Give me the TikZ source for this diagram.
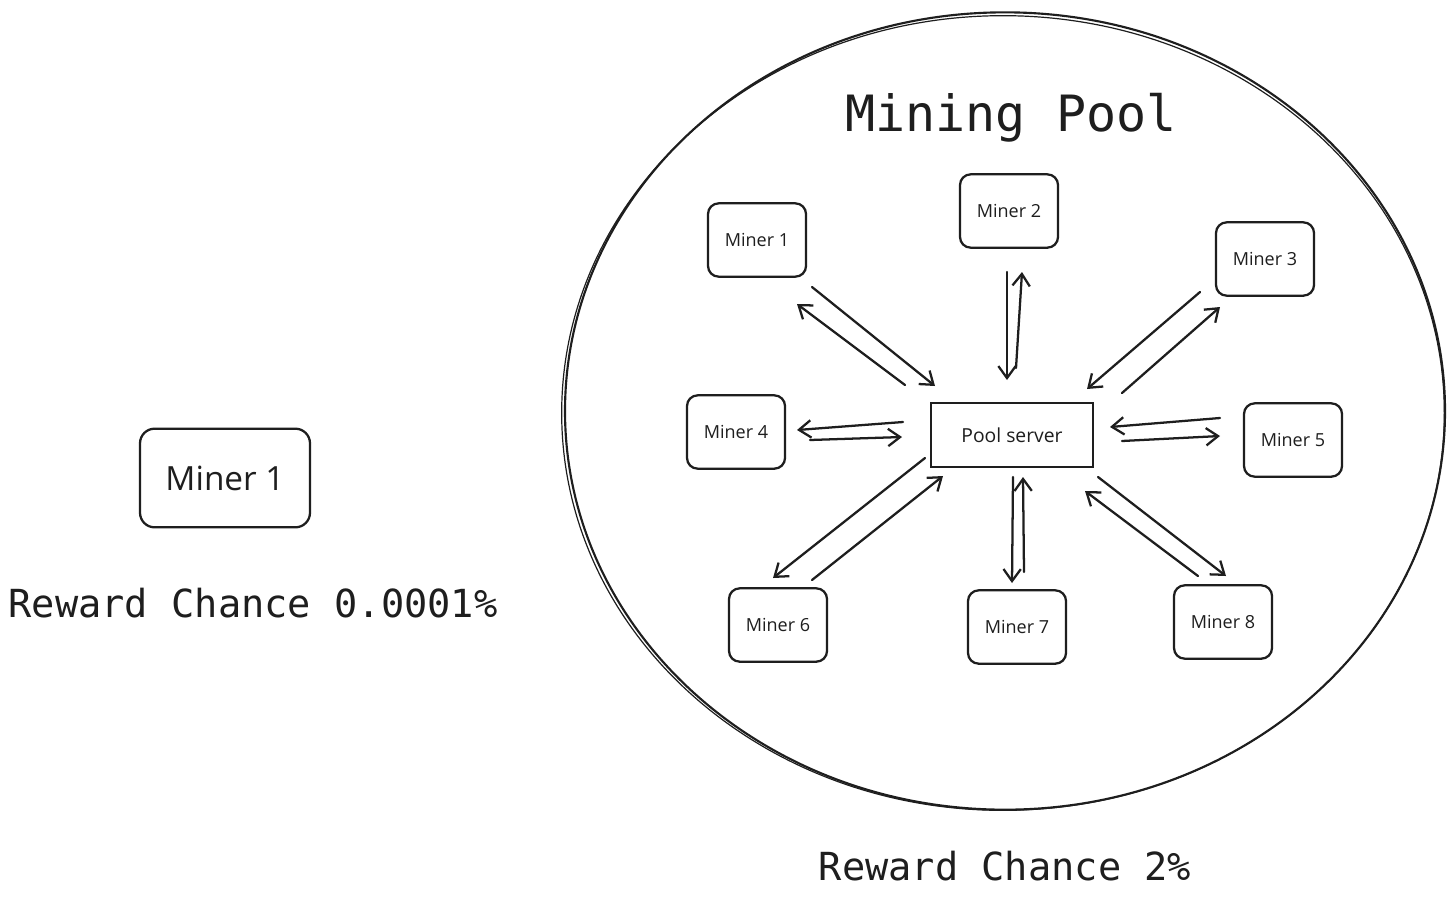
\documentclass[tikz,border=0pt]{standalone}
\usepackage{fontspec}
\setmainfont{Open Sans}
\newfontfamily\monof{DejaVu Sans Mono}
\usetikzlibrary{arrows.meta}
\definecolor{ink}{HTML}{1E1E1E}
\begin{document}
\begin{tikzpicture}[x=0.75pt,y=-0.75pt, color=ink,
  minerbox/.style={draw, line width=1.7pt, rounded corners=8pt, minimum width=73.5pt, minimum height=55pt, inner sep=0pt, font=\fontsize{13.5}{16}\selectfont},
  bigbox/.style={draw, line width=1.7pt, rounded corners=11pt, minimum width=127.5pt, minimum height=74pt, inner sep=0pt, font=\fontsize{25}{30}\selectfont},
  serverbox/.style={draw, line width=1.7pt, minimum width=121pt, minimum height=48pt, inner sep=0pt, font=\fontsize{14.5}{17}\selectfont},
  bigtext/.style={font=\monof\fontsize{29}{34}\selectfont, inner sep=0pt},
  link/.style={line width=1.7pt, line cap=round, -{Straight Barb[length=9pt,width=13pt,line width=1.7pt]}}]
\path[fill=white,use as bounding box] (0,0) rectangle (1455,904);

% pool boundary
\draw[line width=1.6pt] (1005,411) ellipse [x radius=330pt, y radius=299pt];
\draw[line width=0.9pt] (1003,413) ellipse [x radius=331pt, y radius=298pt];

\node[font=\monof\fontsize{37.5}{44}\selectfont, inner sep=0pt] (title) at (1011,118) {Mining Pool};

% solo miner
\node[bigbox] (solo) at (225,478) {Miner 1};
\node[bigtext] (solochance) at (253,603) {Reward Chance 0.0001\%};
\node[bigtext] (poolchance) at (1005,866) {Reward Chance 2\%};

% pool server and miners
\node[serverbox] (server) at (1012,435) {Pool server};
\node[minerbox] (m1) at (757,240) {Miner 1};
\node[minerbox] (m2) at (1009,211) {Miner 2};
\node[minerbox] (m3) at (1265,259) {Miner 3};
\node[minerbox] (m4) at (736,432) {Miner 4};
\node[minerbox] (m5) at (1293,440) {Miner 5};
\node[minerbox] (m6) at (778,625) {Miner 6};
\node[minerbox] (m7) at (1017,627) {Miner 7};
\node[minerbox] (m8) at (1223,622) {Miner 8};

% arrow end points
\coordinate (a1s) at (812,287); \coordinate (a1e) at (935,386);
\coordinate (b1s) at (905,385); \coordinate (b1e) at (797,304);
\coordinate (a2s) at (1007,272); \coordinate (a2e) at (1007,380);
\coordinate (b2s) at (1016,368); \coordinate (b2e) at (1022,272);
\coordinate (a3s) at (1200,292); \coordinate (a3e) at (1087,389);
\coordinate (b3s) at (1122,393); \coordinate (b3e) at (1220,307);
\coordinate (a4s) at (903,422); \coordinate (a4e) at (797,430);
\coordinate (b4s) at (810,440); \coordinate (b4e) at (902,437);
\coordinate (a5s) at (1220,418); \coordinate (a5e) at (1110,427);
\coordinate (b5s) at (1122,441); \coordinate (b5e) at (1220,436);
\coordinate (a6s) at (925,458); \coordinate (a6e) at (773,578);
\coordinate (b6s) at (812,580); \coordinate (b6e) at (943,476);
\coordinate (a7s) at (1013,477); \coordinate (a7e) at (1012,583);
\coordinate (b7s) at (1024,572); \coordinate (b7e) at (1023,477);
\coordinate (a8s) at (1098,477); \coordinate (a8e) at (1226,576);
\coordinate (b8s) at (1198,576); \coordinate (b8e) at (1085,491);

\foreach \i in {1,...,8}{
  \draw[link] (a\i s) -- (a\i e);
  \draw[link] (b\i s) -- (b\i e);
}
\end{tikzpicture}
\end{document}
